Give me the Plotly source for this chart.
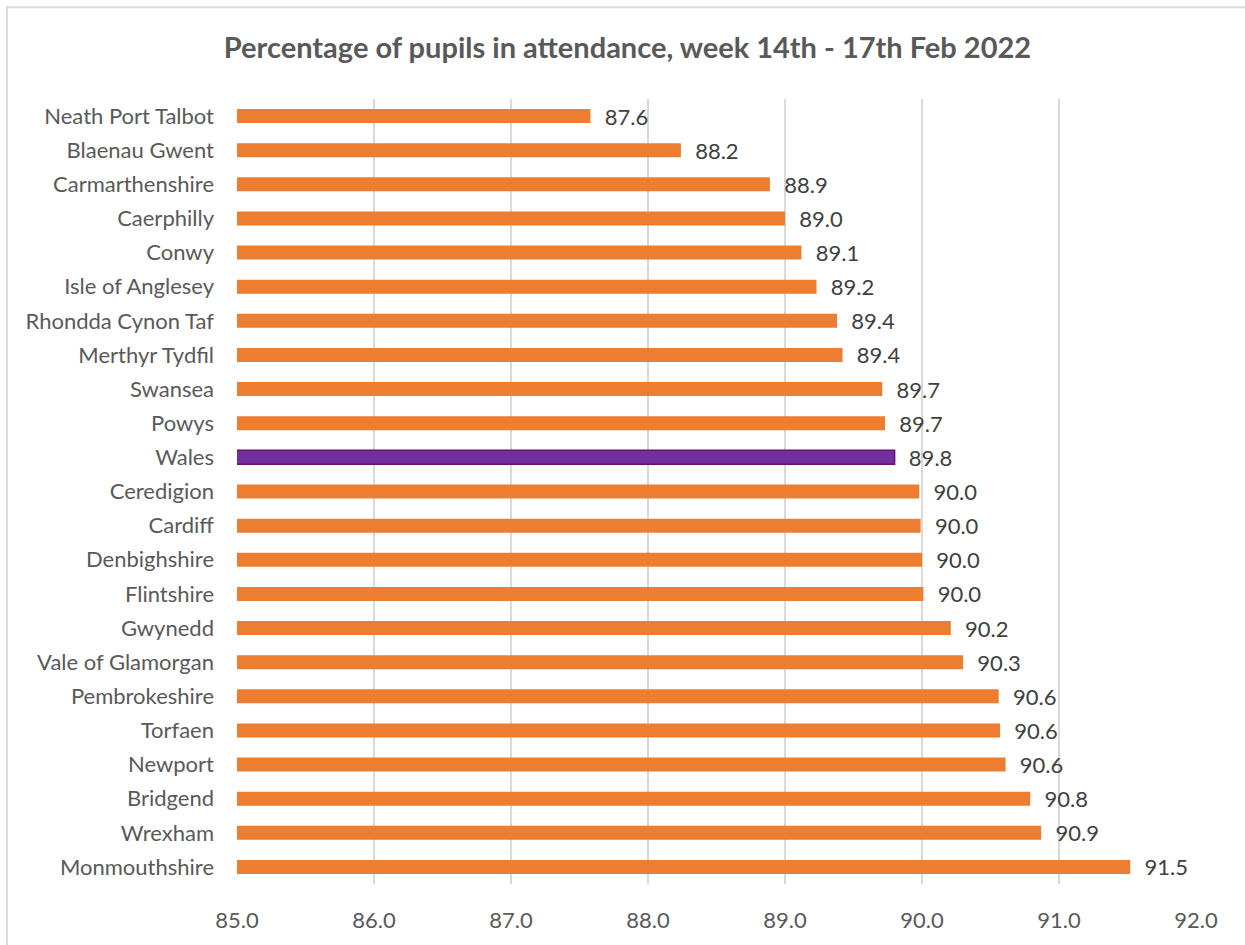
import plotly.graph_objects as go

areas = ["Neath Port Talbot", "Blaenau Gwent", "Carmarthenshire", "Caerphilly", "Conwy",
         "Isle of Anglesey", "Rhondda Cynon Taf", "Merthyr Tydfil", "Swansea", "Powys",
         "Wales", "Ceredigion", "Cardiff", "Denbighshire", "Flintshire", "Gwynedd",
         "Vale of Glamorgan", "Pembrokeshire", "Torfaen", "Newport", "Bridgend",
         "Wrexham", "Monmouthshire"]
attendance = [87.58, 88.24, 88.89, 89.00, 89.12, 89.23, 89.38, 89.42, 89.71, 89.73,
              89.80, 89.98, 89.99, 90.00, 90.01, 90.21, 90.30, 90.56, 90.57, 90.61,
              90.79, 90.87, 91.52]
x_ticks = [85, 86, 87, 88, 89, 90, 91, 92]

ORANGE = "#ED7D31"
PURPLE = "#7030A0"
colors = [PURPLE if a == "Wales" else ORANGE for a in areas]
line_colors = ["#6B0F6B" if a == "Wales" else ORANGE for a in areas]
line_widths = [1.5 if a == "Wales" else 0 for a in areas]

FONT = "Lato, 'Open Sans', sans-serif"

fig = go.Figure(go.Bar(
    x=attendance,
    y=areas,
    orientation="h",
    marker=dict(color=colors, line=dict(color=line_colors, width=line_widths)),
    width=0.41,
    text=["\u00a0\u00a0" + f"{v:.1f}" for v in attendance],
    textposition="outside",
    constraintext="none",
    textfont=dict(family=FONT, size=22, color="#404040"),
    cliponaxis=False,
))

fig.update_layout(
    width=1245, height=945,
    margin=dict(l=237, r=49, t=99, b=58),
    paper_bgcolor="white",
    plot_bgcolor="white",
    title=dict(text="<b>Percentage of pupils in attendance, week 14th - 17th Feb 2022</b>",
               x=0.504, xref="container", xanchor="center", y=0.949, yanchor="middle",
               font=dict(family=FONT, size=29, color="#595959")),
    font=dict(family=FONT, color="#595959"),
    showlegend=False,
    xaxis=dict(range=[85, 92], tickvals=x_ticks, ticktext=[f"{t:.1f}" for t in x_ticks],
               showgrid=True, gridcolor="#D9D9D9", gridwidth=1.5, zeroline=False,
               showline=False, ticks="", tickfont=dict(size=22, color="#595959"),
               ticklabelstandoff=21),
    yaxis=dict(autorange="reversed", showgrid=False, showline=False, ticks="",
               tickfont=dict(size=22, color="#595959"), ticklabelstandoff=22),
    shapes=[dict(type="rect", xref="paper", yref="paper",
                 x0=(7 - 237) / 959, x1=(1260 - 237) / 959,
                 y0=(887 - 960) / 788, y1=(887 - 7) / 788,
                 line=dict(color="#D9D9D9", width=2), fillcolor="rgba(0,0,0,0)",
                 layer="below")],
)

fig.write_html("out.html")
